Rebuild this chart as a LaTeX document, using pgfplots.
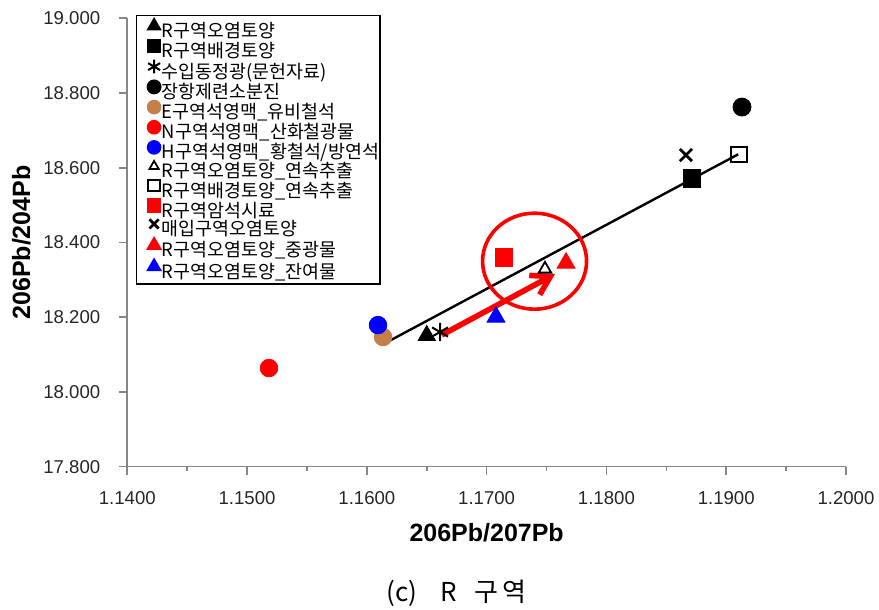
\documentclass[border=0pt]{standalone}
\usepackage{fontspec}
\setmainfont{Liberation Sans}
\newfontfamily\krfont{Noto Sans CJK KR}
\usepackage{pgfplots}
\pgfplotsset{compat=1.18}
\usetikzlibrary{arrows.meta}
\definecolor{brownE}{RGB}{196,128,72}
\definecolor{axgray}{RGB}{134,134,134}
\begin{document}
\begin{tikzpicture}
\begin{axis}[
  at={(0,0)}, anchor=south west,
  scale only axis, width=359.35pt, height=224.2pt,
  xmin=1.14, xmax=1.2, ymin=17.8, ymax=19.0,
  axis x line=bottom, axis y line=left,
  axis line style={-, draw=axgray, line width=0.8pt},
  xtick={1.14,1.15,1.16,1.17,1.18,1.19,1.20},
  minor xtick={1.145,1.155,1.165,1.175,1.185,1.195},
  ytick={17.8,18.0,18.2,18.4,18.6,18.8,19.0},
  tick align=outside, major tick length=4pt, minor tick length=2pt,
  every tick/.style={draw=axgray, line width=0.8pt},
  scaled ticks=false,
  /pgf/number format/assume math mode=true,
  x tick label style={/pgf/number format/.cd, fixed, fixed zerofill, precision=4, /tikz/.cd, yshift=-5pt},
  y tick label style={/pgf/number format/.cd, fixed, fixed zerofill, precision=3, /tikz/.cd, xshift=-6pt},
  tick label style={font=\fontsize{9.3}{11}\selectfont, text=black!85},
  xlabel={206Pb/207Pb}, ylabel={206Pb/204Pb},
  xlabel style={font=\bfseries\fontsize{12.5}{14}\selectfont, at={(axis description cs:0.5,-0.1472)}, anchor=center},
  ylabel style={font=\bfseries\fontsize{12.5}{14}\selectfont, at={(axis description cs:-0.1475,0.5)}, anchor=center},
  clip=false,
  legend image code/.code={%
    \path (-8pt,3pt) (2.5pt,3pt);
    \draw[#1, /tikz/every mark/.append style={scale=0.75}] plot coordinates {(0pt,3pt)};},
  legend cell align=left,
  legend style={at={(axis description cs:0.0121,1.0074)}, anchor=north west,
    draw=black, line width=0.7pt, inner xsep=0pt, inner ysep=1.4pt, row sep=-0.57pt,
    /tikz/every even column/.style={column sep=0pt},
    font=\krfont\fontsize{9.2}{10}\selectfont,
    nodes={inner xsep=0.5pt, inner ysep=0.55pt, text height=6.6pt, text depth=1.0pt, text=black}},
]
% trend line
\addplot[forget plot, black, line width=1.2pt] coordinates {(1.16124,18.1257) (1.1910,18.636)};

\addplot[only marks, mark=triangle*, mark size=5pt, black, mark options={fill=black, draw=black}] coordinates {(1.1650,18.151)};
\addlegendentry{R구역오염토양}
\addplot[only marks, mark=square*, mark size=4.4pt, black, mark options={fill=black, draw=black}] coordinates {(1.18715,18.571)};
\addlegendentry{R구역배경토양}
\addplot[only marks, mark=asterisk, mark size=4.6pt, black, line width=1pt] coordinates {(1.16611,18.1605)};
\addlegendentry{수입동정광(문헌자료)}
\addplot[only marks, mark=*, mark size=4.5pt, black, mark options={fill=black, draw=black}] coordinates {(1.19132,18.7625)};
\addlegendentry{장항제련소분진}
\addplot[only marks, mark=*, mark size=4.4pt, brownE, mark options={fill=brownE, draw=brownE}] coordinates {(1.16135,18.147)};
\addlegendentry{E구역석영맥\_유비철석}
\addplot[only marks, mark=*, mark size=4.4pt, red, mark options={fill=red, draw=red}] coordinates {(1.15183,18.064)};
\addlegendentry{N구역석영맥\_산화철광물}
\addplot[only marks, mark=*, mark size=4.4pt, blue, mark options={fill=blue, draw=blue}] coordinates {(1.16093,18.179)};
\addlegendentry{H구역석영맥\_황철석/방연석}
\addplot[only marks, mark=triangle, mark size=3.6pt, black, line width=0.9pt, mark options={fill=white, draw=black}] coordinates {(1.17487,18.329)};
\addlegendentry{R구역오염토양\_연속추출}
\addplot[only marks, mark=square, mark size=3.8pt, black, line width=1pt, mark options={fill=white, draw=black}] coordinates {(1.19107,18.635)};
\addlegendentry{R구역배경토양\_연속추출}
\addplot[only marks, mark=square*, mark size=4.4pt, red, mark options={fill=red, draw=red}] coordinates {(1.17145,18.360)};
\addlegendentry{R구역암석시료}
\addplot[only marks, mark=x, mark size=4.3pt, black, line width=1.4pt] coordinates {(1.18664,18.634)};
\addlegendentry{매입구역오염토양}
\addplot[only marks, mark=triangle*, mark size=5.2pt, red, mark options={fill=red, draw=red}] coordinates {(1.17663,18.345)};
\addlegendentry{R구역오염토양\_중광물}
\addplot[only marks, mark=triangle*, mark size=5.2pt, blue, mark options={fill=blue, draw=blue}] coordinates {(1.17078,18.2006)};
\addlegendentry{R구역오염토양\_잔여물}

% arrow
\addplot[forget plot, red, line width=2.8pt, -{Straight Barb[length=9pt, width=11pt]}] coordinates {(1.16625,18.1524) (1.17571,18.3157)};
% ellipse
\draw[red, line width=1.8pt] (axis cs:1.1740,18.350) ellipse [x radius=26pt, y radius=24pt];
\end{axis}
\node[font=\krfont\fontsize{13}{15}\selectfont, anchor=base west, inner sep=0pt] at (129.5pt,-67.3pt) {(c)\hspace{11.5pt}R\hspace{8.5pt}구\hspace{2.5pt}역};
\pgfresetboundingbox
\path (-63.65pt,-71.65pt) rectangle (375.85pt,233.35pt);
\end{tikzpicture}
\end{document}
